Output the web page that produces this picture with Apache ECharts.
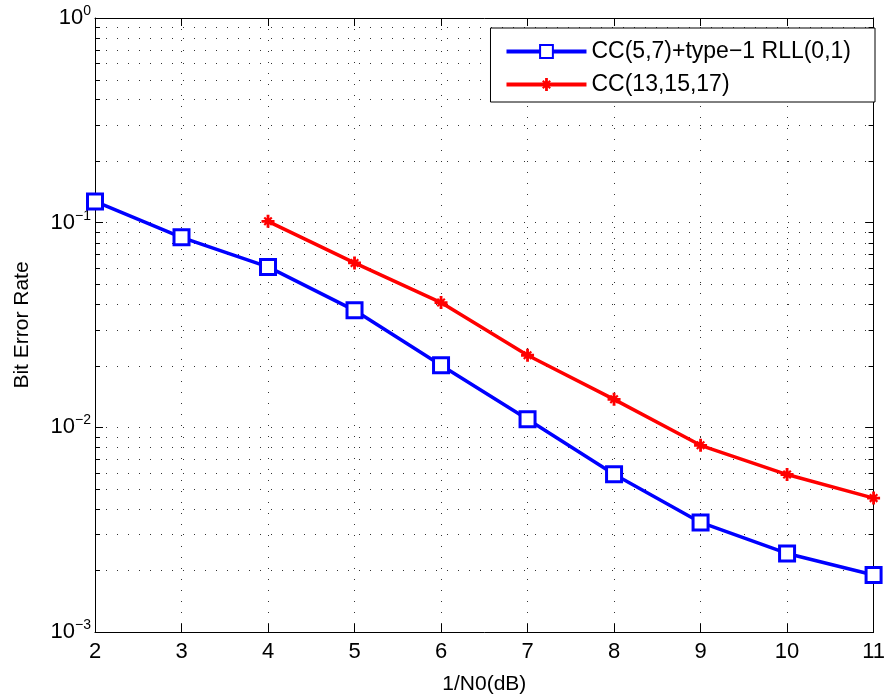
<!DOCTYPE html>
<html>
<head>
<meta charset="utf-8">
<script src="https://cdn.jsdelivr.net/npm/echarts@6/dist/echarts.min.js"></script>
<style>html,body{margin:0;padding:0;background:#fff}#c{width:888px;height:700px}</style>
</head>
<body>
<div id="c"></div>
<script>
const xBlue = [2, 3, 4, 5, 6, 7, 8, 9, 10, 11];
const yBlue = [0.127, 0.0848, 0.0608, 0.0373, 0.0201, 0.01094, 0.0059, 0.00343, 0.00242, 0.00190];
const xRed = [4, 5, 6, 7, 8, 9, 10, 11];
const yRed = [0.1015, 0.0636, 0.0407, 0.0225, 0.0137, 0.00817, 0.00588, 0.00451];
const seriesNames = ['CC(5,7)+type\u22121 RLL(0,1)', 'CC(13,15,17)'];
const minorGridValues = [0.002,0.003,0.004,0.005,0.006,0.007,0.008,0.009,
  0.02,0.03,0.04,0.05,0.06,0.07,0.08,0.09,
  0.2,0.3,0.4,0.5,0.6,0.7,0.8,0.9];
const xMin = 2, xMax = 11, yMin = 0.001, yMax = 1;

const font = 'Liberation Sans, Arial, Helvetica, sans-serif';
const chart = echarts.init(document.getElementById('c'));
const dotColor = '#333';
const dotted = {color: dotColor, width: 1, type: [1, 10]};
const starPath = 'path://M0,4.3h11v2.4h-11z M4.3,0h2.4v11h-2.4z ' +
  'M2.96,1.68L9.32,8.04L8.04,9.32L1.68,2.96z M1.68,8.04L8.04,1.68L9.32,2.96L2.96,9.32z';

function logLabel(v) {
  const e = Math.round(Math.log10(v));
  const s = e === 0 ? '0' : '\u2212' + (-e);
  return '{b|10}{s|' + s + '}';
}

chart.setOption({
  animation: false,
  backgroundColor: '#fff',
  textStyle: {fontFamily: font},
  grid: {left: 95, right: 12, top: 18, bottom: 67, show: false},
  legend: {
    right: 13, top: 28,
    orient: 'vertical',
    backgroundColor: '#fff',
    borderColor: '#000', borderWidth: 1,
    padding: [12, 24, 6, 14],
    itemGap: 10,
    itemWidth: 80, itemHeight: 16,
    lineStyle: {width: 4},
    textStyle: {fontSize: 23, color: '#000', fontFamily: font},
    data: seriesNames
  },
  xAxis: [{
    type: 'value', min: xMin, max: xMax, interval: 1,
    name: '1/N0(dB)', nameLocation: 'middle', nameGap: 42,
    nameTextStyle: {fontSize: 21, color: '#000'},
    axisLine: {lineStyle: {color: '#000', width: 1}},
    axisTick: {inside: true, length: 8, lineStyle: {color: '#000'}},
    axisLabel: {fontSize: 22, color: '#000', margin: 9},
    splitLine: {show: true, lineStyle: dotted}
  }, {
    type: 'value', min: xMin, max: xMax, interval: 1, position: 'top',
    axisLine: {lineStyle: {color: '#000', width: 1}},
    axisTick: {inside: true, length: 8, lineStyle: {color: '#000'}},
    axisLabel: {show: false}, splitLine: {show: false}
  }],
  yAxis: [{
    type: 'log', logBase: 10, min: yMin, max: yMax,
    name: 'Bit Error Rate', nameLocation: 'middle', nameGap: 62,
    nameTextStyle: {fontSize: 21, color: '#000'},
    axisLine: {show: true, lineStyle: {color: '#000', width: 1}},
    axisTick: {inside: true, length: 8, lineStyle: {color: '#000'}},
    axisLabel: {
      formatter: logLabel, margin: 4,
      rich: {
        b: {fontSize: 22, color: '#000', fontFamily: font},
        s: {fontSize: 14, color: '#000', fontFamily: font, padding: [0, 0, 14, 0]}
      }
    },
    splitLine: {show: true, lineStyle: dotted}
  }, {
    type: 'log', logBase: 10, min: yMin, max: yMax, position: 'right',
    axisLine: {show: true, lineStyle: {color: '#000', width: 1}},
    axisTick: {inside: true, length: 8, lineStyle: {color: '#000'}},
    axisLabel: {show: false}, splitLine: {show: false}
  }],
  series: [{
    type: 'custom',
    silent: true,
    z: 1,
    data: minorGridValues.map(v => [v]),
    renderItem: function (params, api) {
      const v = api.value(0);
      const p0 = api.coord([xMin, v]);
      const p1 = api.coord([xMax, v]);
      const y = Math.round(p0[1]) + 0.5;
      return {
        type: 'group',
        children: [
          {type: 'line', shape: {x1: p0[0], y1: y, x2: p1[0], y2: y}, style: {stroke: dotColor, lineWidth: 1, lineDash: [1, 10]}},
          {type: 'line', shape: {x1: p0[0], y1: y, x2: p0[0] + 5, y2: y}, style: {stroke: '#000', lineWidth: 1}},
          {type: 'line', shape: {x1: p1[0], y1: y, x2: p1[0] - 5, y2: y}, style: {stroke: '#000', lineWidth: 1}}
        ]
      };
    },
    encode: {y: 0}
  }, {
    name: seriesNames[0],
    type: 'line',
    z: 3,
    data: xBlue.map((x, i) => [x, yBlue[i]]),
    lineStyle: {color: '#0000ff', width: 3.5},
    itemStyle: {color: '#fff', borderColor: '#0000ff', borderWidth: 3},
    symbol: 'rect', symbolSize: 15, showSymbol: true
  }, {
    name: seriesNames[1],
    type: 'line',
    z: 3,
    data: xRed.map((x, i) => [x, yRed[i]]),
    lineStyle: {color: '#ff0000', width: 3.5},
    itemStyle: {color: '#ff0000'},
    symbol: starPath, symbolSize: 13, showSymbol: true
  }]
});
</script>
</body>
</html>
